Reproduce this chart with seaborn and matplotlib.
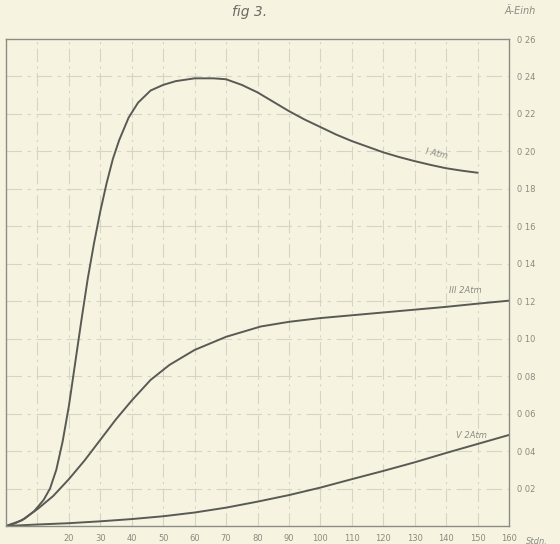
import numpy as np
import pandas as pd
import matplotlib
matplotlib.use("Agg")
import matplotlib.pyplot as plt
import seaborn as sns

# values (hours vs. units)
hours_I = [0, 3, 6, 9, 12, 14, 16, 18, 20, 22, 24, 26, 28, 30, 32, 34, 36, 39, 42, 46, 50,
           54, 60, 66, 70, 75, 80, 85, 90, 95, 100, 105, 110, 115, 120, 125, 130,
           135, 140, 145, 150]
vals_I = [0.0, 0.0015, 0.004, 0.008, 0.014, 0.020, 0.030, 0.045, 0.064, 0.087, 0.110,
          0.132, 0.151, 0.168, 0.183, 0.196, 0.206, 0.218, 0.226, 0.2325, 0.2355, 0.2375,
          0.239, 0.239, 0.2385, 0.2355, 0.2315, 0.2265, 0.2215, 0.217, 0.213, 0.209,
          0.2055, 0.2025, 0.1995, 0.197, 0.1948, 0.1928, 0.191, 0.1897, 0.1886]

hours_III = [0, 5, 10, 15, 20, 25, 30, 35, 40, 46, 52, 60, 70, 81, 90, 100, 110, 120,
             130, 140, 150, 160]
vals_III = [0.0, 0.003, 0.009, 0.016, 0.025, 0.035, 0.046, 0.057, 0.067, 0.078, 0.086,
            0.094, 0.101, 0.1065, 0.109, 0.111, 0.1125, 0.114, 0.1155, 0.117, 0.1187,
            0.1203]

hours_V = [0, 10, 20, 30, 40, 50, 60, 70, 80, 90, 100, 110, 120, 130, 140, 150, 160]
vals_V = [0.0, 0.0008, 0.0015, 0.0025, 0.0037, 0.0052, 0.0072, 0.0098, 0.013, 0.0165,
          0.0205, 0.025, 0.0294, 0.034, 0.039, 0.0438, 0.0486]

curve_labels = ["I Atm", "III 2Atm", "V 2Atm"]
x_ticks = list(range(20, 161, 10))
y_ticks = [0.02, 0.04, 0.06, 0.08, 0.10, 0.12, 0.14, 0.16, 0.18, 0.20, 0.22, 0.24, 0.26]

paper = "#f6f4e1"
ink = "#5a5a55"
faint = "#8a8a80"

sns.set_style("white", {"axes.facecolor": paper, "figure.facecolor": paper})
plt.rcParams["font.family"] = ["DejaVu Sans"]

fig = plt.figure(figsize=(5.6, 5.44), dpi=100)
ax = fig.add_axes([6 / 560, 18 / 544, 503 / 560, 487 / 544])

# faint broken grid of the original squared paper
for xv in range(10, 160, 10):
    ax.axvline(xv, color="#d6d5c4", lw=0.8, ls=(0, (12, 4, 2, 4)), zorder=0)
for yv in y_ticks[:-1]:
    ax.axhline(yv, color="#d6d5c4", lw=0.8, ls=(0, (14, 5, 3, 5)), zorder=0)

for hx, vy in [(hours_I, vals_I), (hours_III, vals_III), (hours_V, vals_V)]:
    df = pd.DataFrame({"h": hx, "v": vy})
    sns.lineplot(data=df, x="h", y="v", ax=ax, color=ink, lw=1.4, sort=False)

ax.set_xlim(0, 160)
ax.set_ylim(0, 0.26)
ax.set_xlabel("")
ax.set_ylabel("")

ax.set_xticks(x_ticks)
ax.set_xticklabels([str(t) for t in x_ticks], fontsize=6, color=faint)
ax.yaxis.tick_right()
ax.set_yticks(y_ticks)
ax.set_yticklabels([("%.2f" % t).replace(".", " ") for t in y_ticks], fontsize=6, color=faint)
ax.tick_params(length=0, pad=6)

for s in ax.spines.values():
    s.set_color("#8c8c84")
    s.set_linewidth(1.0)

# curve labels
ax.text(133, 0.196, curve_labels[0], fontsize=6, color=faint, rotation=-12, style="italic")
ax.text(141, 0.1245, curve_labels[1], fontsize=6, color=faint, style="italic")
ax.text(143, 0.047, curve_labels[2], fontsize=6, color=faint, style="italic")

fig.text(232 / 560, 1 - 16 / 544, "fig 3.", fontsize=10, color="#6a6a62", style="italic")
fig.text(505 / 560, 1 - 14 / 544, "Ä-Einh", fontsize=7, color=faint, style="italic")
fig.text(526 / 560, 1 - 541 / 544, "Stdn.", fontsize=6, color=faint, style="italic", va="center")

fig.savefig("out.png", dpi=100, facecolor=paper)
